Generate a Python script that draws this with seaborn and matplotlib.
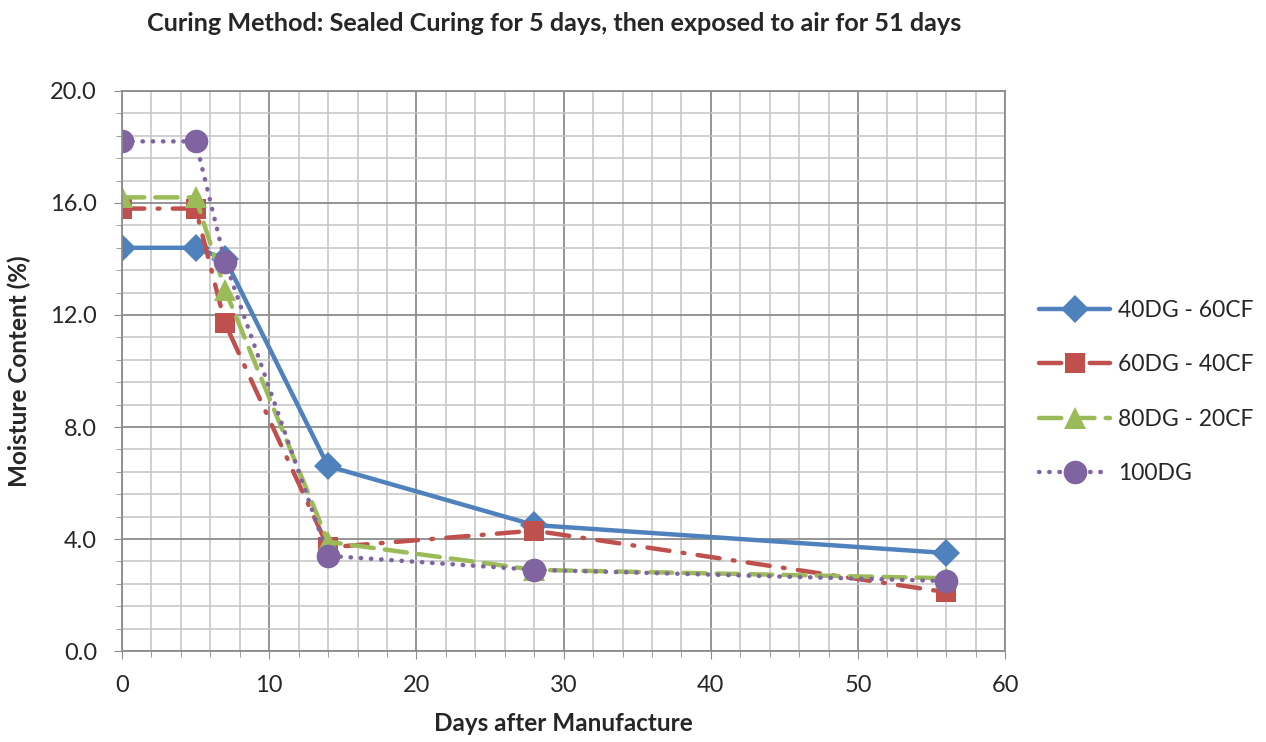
import pandas as pd
import seaborn as sns
import matplotlib.pyplot as plt
from matplotlib.ticker import MultipleLocator, FormatStrFormatter

# Moisture content readings (%) by days after manufacture
days = [0, 5, 7, 14, 28, 56]
mix_40dg = [14.4, 14.4, 14.0, 6.6, 4.5, 3.5]
mix_60dg = [15.8, 15.8, 11.7, 3.7, 4.3, 2.1]
mix_80dg = [16.2, 16.2, 12.9, 3.9, 2.9, 2.6]
mix_100dg = [18.2, 18.2, 13.9, 3.4, 2.9, 2.5]
labels = ["40DG - 60CF", "60DG - 40CF", "80DG - 20CF", "100DG"]

series = [mix_40dg, mix_60dg, mix_80dg, mix_100dg]
colors = ["#4F81BD", "#C0504D", "#9BBB59", "#8064A2"]
markers = ["D", "s", "^", "o"]
msizes = [14.5, 14.5, 15.5, 17]
linestyles = ["-", (0, (5, 3, 0.4, 3)), (0, (5, 2.5)), (0, (0.1, 2.2))]

sns.set_style("white")
plt.rcParams["font.family"] = ["Lato", "DejaVu Sans"]

fig = plt.figure(figsize=(12.66, 7.42), dpi=100)
ax = fig.add_axes([0.0964, 0.1226, 0.6976, 0.7548])

for vals, lab, c, m, ms, ls in zip(series, labels, colors, markers, msizes, linestyles):
    df = pd.DataFrame({"Days": days, "Moisture": vals})
    sns.lineplot(x="Days", y="Moisture", data=df, ax=ax, label=lab, color=c,
                 marker=m, markersize=ms, markeredgewidth=0, linewidth=3.2,
                 linestyle=ls, dash_capstyle="round", solid_capstyle="round")

ax.set_xlim(0, 60)
ax.set_ylim(0, 20)
ax.xaxis.set_major_locator(MultipleLocator(10))
ax.xaxis.set_minor_locator(MultipleLocator(2))
ax.yaxis.set_major_locator(MultipleLocator(4))
ax.yaxis.set_minor_locator(MultipleLocator(0.8))
ax.yaxis.set_major_formatter(FormatStrFormatter("%.1f"))

ax.grid(which="major", color="#8c8c8c", linewidth=1.3)
ax.grid(which="minor", color="#c4c4c4", linewidth=1.1)
ax.set_axisbelow(True)
for s in ax.spines.values():
    s.set_color("#8c8c8c")
    s.set_linewidth(1.3)

ax.tick_params(which="major", direction="out", length=6, color="#8c8c8c",
               labelsize=17, bottom=True, left=True)
ax.tick_params(axis="x", which="major", pad=11)
ax.tick_params(axis="y", which="major", pad=12)
ax.tick_params(which="minor", direction="out", length=4, color="#8c8c8c",
               bottom=True, left=True)

ax.set_xlabel("Days after Manufacture", fontsize=17.5, fontweight="bold", labelpad=12)
ax.set_ylabel("Moisture Content (%)", fontsize=17.5, fontweight="bold", labelpad=14)
fig.suptitle("Curing Method: Sealed Curing for 5 days, then exposed to air for 51 days",
             x=0.438, y=0.984, fontsize=18.2, fontweight="bold")

ax.legend(loc="center left", bbox_to_anchor=(1.015, 0.4625), frameon=False,
          fontsize=16.5, handlelength=3.1, labelspacing=1.45, handletextpad=0.35)

fig.savefig("out.png", dpi=100)
